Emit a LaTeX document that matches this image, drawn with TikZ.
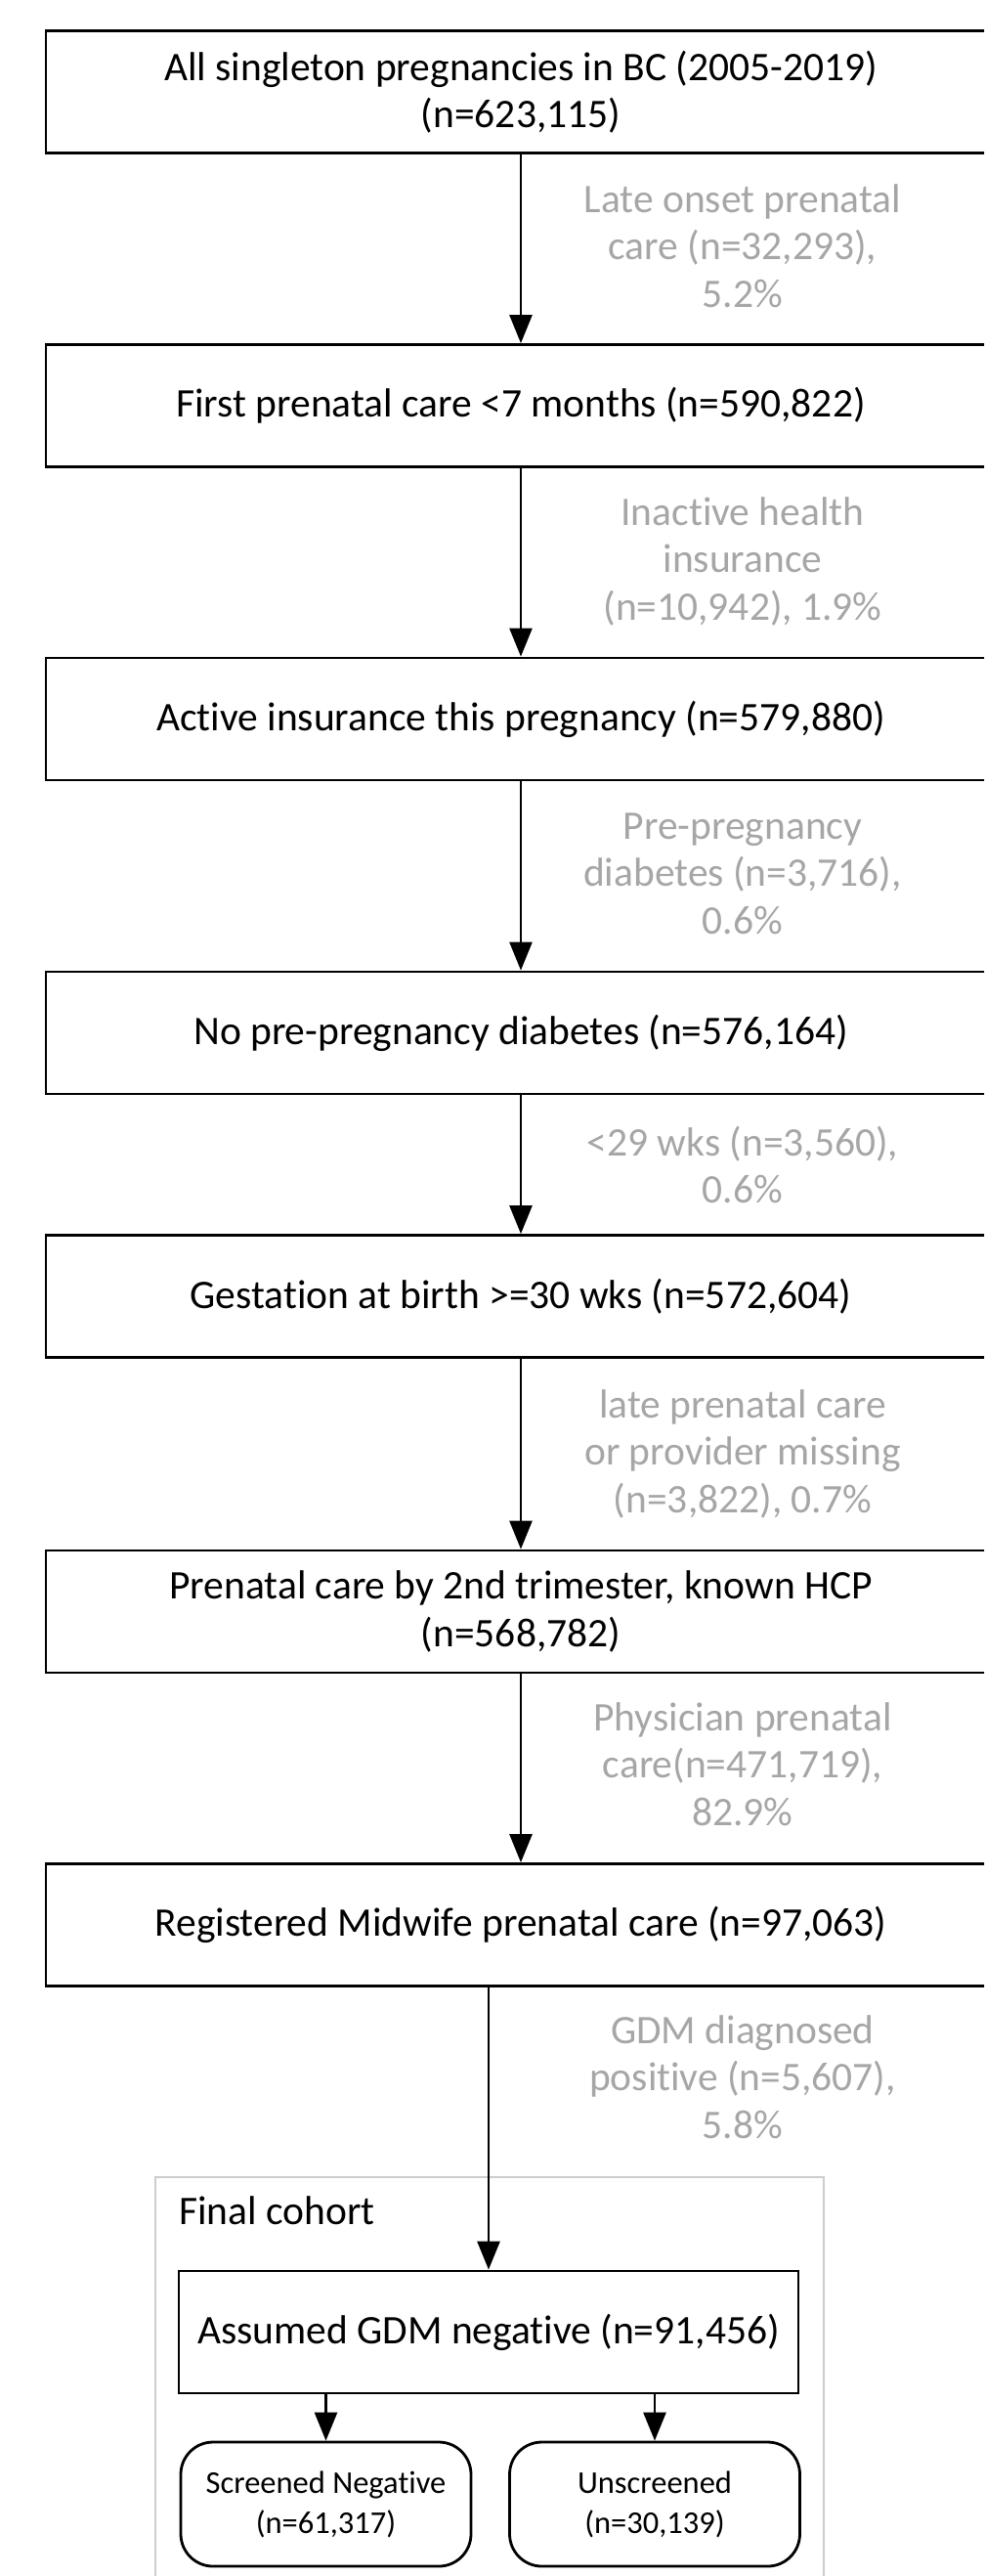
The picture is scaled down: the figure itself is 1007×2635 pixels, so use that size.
\documentclass[tikz,border=0pt]{standalone}
\usepackage{fontspec}
\setmainfont{Carlito}[Ligatures=NoCommon]
\usepackage{tikz}
\usetikzlibrary{arrows.meta}

\definecolor{exclgray}{RGB}{166,166,166}
\definecolor{framegray}{RGB}{205,205,205}

\begin{document}
\begin{tikzpicture}[
		x=1pt, y=-1pt,
		arrow/.style={-{Triangle[length=29pt, width=23pt]}, line width=2.6pt},
		box/.style={draw, line width=2.8pt, minimum width=972pt, minimum height=125pt,
			align=center, inner sep=0pt, font=\fontsize{41.5}{48.5}\selectfont},
		excl/.style={anchor=north, inner sep=0pt, align=center, text=exclgray,
			font=\fontsize{41.5}{48.5}\selectfont},
		rbox/.style={draw, line width=2.8pt, rounded corners=33pt, minimum width=297pt,
			minimum height=127pt, align=center, inner sep=0pt, font=\fontsize{32.5}{41}\selectfont}
	]
	\useasboundingbox (0, 0) rectangle (1007, 2635);
	\clip (0, 0) rectangle (1007, 2635);
	
	% main steps
	\node[box] (b1) at (533, 94) {All singleton pregnancies in BC (2005-2019)\\(n=623,115)};
	\node[box] (b2) at (533, 415) {First prenatal care <7 months (n=590,822)};
	\node[box] (b3) at (533, 735.5) {Active insurance this pregnancy (n=579,880)};
	\node[box] (b4) at (533, 1056.5) {No pre-pregnancy diabetes (n=576,164)};
	\node[box] (b5) at (533, 1326) {Gestation at birth >=30 wks (n=572,604)};
	\node[box] (b6) at (533, 1648.5) {Prenatal care by 2nd trimester, known HCP\\(n=568,782)};
	\node[box] (b7) at (533, 1969) {Registered Midwife prenatal care (n=97,063)};
	
	% exclusions
	\node[excl] (e1) at (760, 184) {\rule{0pt}{33pt}Late onset prenatal\\care (n=32,293),\\5.2\%};
	\node[excl] (e2) at (760, 504) {\rule{0pt}{33pt}Inactive health\\insurance\\(n=10,942), 1.9\%};
	\node[excl] (e3) at (760, 825) {\rule{0pt}{33pt}Pre-pregnancy\\diabetes (n=3,716),\\0.6\%};
	\node[excl] (e4) at (760, 1149) {\rule{0pt}{33pt}<29 wks (n=3,560),\\0.6\%};
	\node[excl] (e5) at (760, 1417) {\rule{0pt}{33pt}late prenatal care\\or provider missing\\(n=3,822), 0.7\%};
	\node[excl] (e6) at (760, 1737) {\rule{0pt}{33pt}Physician prenatal\\care(n=471,719),\\82.9\%};
	\node[excl] (e7) at (760, 2057) {\rule{0pt}{33pt}GDM diagnosed\\positive (n=5,607),\\5.8\%};
	
	% final cohort
	\draw[framegray, line width=1.8pt] (159, 2227) rectangle (843, 2700);
	\node[anchor=base west, inner sep=0pt, font=\fontsize{41.5}{48.5}\selectfont] (final) at (183, 2275) {Final cohort};
	\node[box, minimum width=634pt] (assumed) at (500, 2385.5) {Assumed GDM negative (n=91,456)};
	\node[rbox] (screened) at (333.5, 2561.5) {Screened Negative\\(n=61,317)};
	\node[rbox] (unscreened) at (670, 2561.5) {Unscreened\\(n=30,139)};
	
	\draw[arrow] (b1) -- (b2);
	\draw[arrow] (b2) -- (b3);
	\draw[arrow] (b3) -- (b4);
	\draw[arrow] (b4) -- (b5);
	\draw[arrow] (b5) -- (b6);
	\draw[arrow] (b6) -- (b7);
	\draw[arrow] (assumed |- b7.south) -- (assumed.north);
	
	\draw[arrow] (assumed.south -| screened) -- (screened.north);
	\draw[arrow] (assumed.south -| unscreened) -- (unscreened.north);
\end{tikzpicture}
\end{document}
